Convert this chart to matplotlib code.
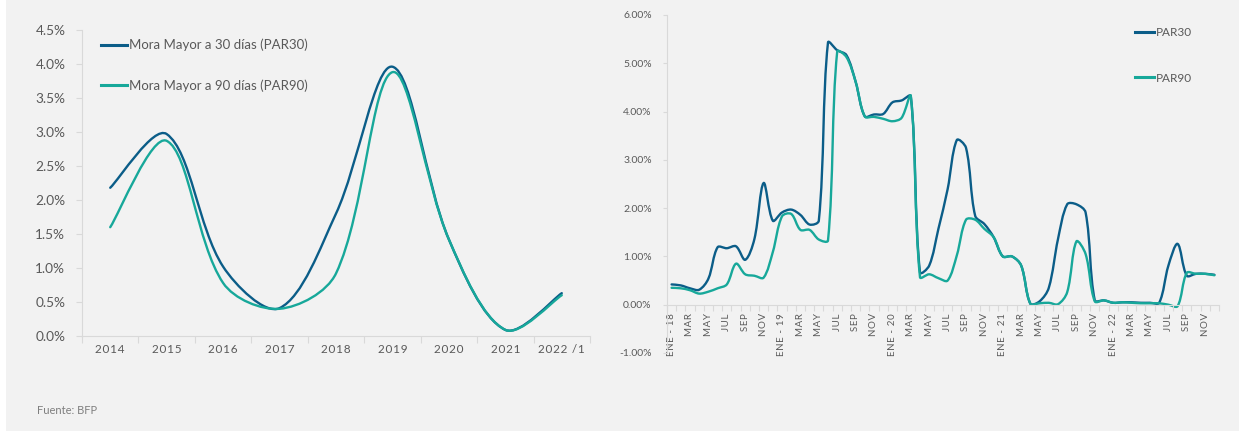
import matplotlib
matplotlib.use("Agg")
import matplotlib.pyplot as plt
import numpy as np
from matplotlib.path import Path
from matplotlib.patches import PathPatch, Rectangle
from matplotlib.lines import Line2D

plt.rcParams['font.family'] = ['Lato', 'DejaVu Sans']

# annual delinquency ratios (%)
years = ['2014', '2015', '2016', '2017', '2018', '2019', '2020', '2021', '2022 /1']
par30_year = [2.18, 2.97, 1.02, 0.41, 1.80, 3.96, 1.42, 0.09, 0.63]
par90_year = [1.60, 2.87, 0.78, 0.40, 0.92, 3.88, 1.42, 0.09, 0.60]

# monthly ratios Jan-2018 .. Dec-2022 (%)
par30_month = [0.42, 0.40, 0.34, 0.31, 0.54, 1.19, 1.17, 1.21, 0.93, 1.36, 2.52, 1.74,
               1.91, 1.97, 1.86, 1.66, 1.74, 5.43, 5.27, 5.17, 4.62, 3.90, 3.94, 3.95,
               4.19, 4.23, 4.32, 0.67, 0.81, 1.57, 2.39, 3.41, 3.25, 1.84, 1.67, 1.40,
               1.00, 1.00, 0.81, 0.02, 0.07, 0.35, 1.36, 2.08, 2.08, 1.91, 0.09, 0.09,
               0.04, 0.05, 0.05, 0.04, 0.04, 0.04, 0.81, 1.26, 0.60, 0.64, 0.64, 0.62]
par90_month = [0.35, 0.34, 0.30, 0.23, 0.27, 0.34, 0.42, 0.85, 0.63, 0.60, 0.56, 1.09,
               1.83, 1.88, 1.55, 1.55, 1.35, 1.33, 5.24, 5.13, 4.62, 3.90, 3.89, 3.85,
               3.80, 3.87, 4.32, 0.57, 0.63, 0.55, 0.50, 1.02, 1.76, 1.76, 1.57, 1.40,
               1.00, 1.00, 0.81, 0.02, 0.03, 0.04, 0.01, 0.26, 1.31, 1.05, 0.07, 0.09,
               0.04, 0.05, 0.04, 0.03, 0.03, 0.03, 0.00, -0.03, 0.66, 0.64, 0.64, 0.61]
month_names = ['ENE', 'FEB', 'MAR', 'ABR', 'MAY', 'JUN', 'JUL', 'AGO', 'SEP', 'OCT', 'NOV', 'DIC']
month_years = ['18', '19', '20', '21', '22']

C30 = '#0b5d88'
C90 = '#17a89a'
GRID = '#d9d9d9'
TXT = '#595959'


def spaced(s):
    return '\u200a'.join(s)


def smooth_path(x, y, sx, sy):
    # smoothed line as cubic beziers; tangent lengths are weighted by the
    # on-screen segment lengths (sx, sy = pixels per data unit) to avoid overshoot
    pts = np.column_stack([x, y]).astype(float)
    scr = pts * np.array([sx, sy])
    n = len(pts)

    def d(a, b):
        return np.hypot(*(scr[b] - scr[a]))

    verts = [pts[0]]
    codes = [Path.MOVETO]
    for i in range(n - 1):
        i0 = max(i - 1, 0)
        i3 = min(i + 2, n - 1)
        d01, d12, d23 = d(i0, i), d(i, i + 1), d(i + 1, i3)
        f1 = d12 / (d01 + d12) / 3.0 if d01 > 0 else 1 / 6.0
        f2 = d12 / (d12 + d23) / 3.0 if d23 > 0 else 1 / 6.0
        c1 = pts[i] + (pts[i + 1] - pts[i0]) * f1
        c2 = pts[i + 1] - (pts[i3] - pts[i]) * f2
        verts += [c1, c2, pts[i + 1]]
        codes += [Path.CURVE4] * 3
    return Path(verts, codes)


def add_line(ax, y, color, sx, sy):
    x = np.arange(len(y)) + 0.5
    patch = PathPatch(smooth_path(x, y, sx, sy), facecolor='none', edgecolor=color,
                      lw=1.7, capstyle='round', joinstyle='round')
    ax.add_patch(patch)


fig = plt.figure(figsize=(12.39, 4.34), dpi=100, facecolor='white')
fig.patches.append(Rectangle((6 / 1239, 3 / 434), 1 - 6 / 1239, 1 - 3 / 434,
                             transform=fig.transFigure, facecolor='#f2f2f2',
                             edgecolor='none', zorder=-10))

# left panel: annual series
ax1 = fig.add_axes([82 / 1239, 1 - 336 / 434, (590 - 82) / 1239, (336 - 30) / 434])
ax1.set_facecolor('none')
add_line(ax1, par30_year, C30, 56.5, 68.0)
add_line(ax1, par90_year, C90, 56.5, 68.0)
ax1.set_xlim(0, len(years))
ax1.set_ylim(0, 4.5)
ax1.set_yticks(np.arange(0, 4.51, 0.5))
ax1.set_yticklabels([f'{v:.1f}%' for v in np.arange(0, 4.51, 0.5)], color=TXT, fontsize=9.8)
ax1.set_xticks(np.arange(0, len(years) + 1))
ax1.set_xticklabels([])
ax1.set_xticks(np.arange(len(years)) + 0.5, minor=True)
ax1.set_xticklabels([spaced(y) for y in years], minor=True, color=TXT, fontsize=8.5)
ax1.tick_params(axis='x', which='major', length=5, color=GRID, direction='out')
ax1.tick_params(axis='x', which='minor', length=0, pad=6)
ax1.tick_params(axis='y', length=4, color=GRID, pad=8)
for s in ['top', 'right']:
    ax1.spines[s].set_visible(False)
for s in ['left', 'bottom']:
    ax1.spines[s].set_color(GRID)
ax1.legend(handles=[Line2D([], [], color=C30, lw=2.2), Line2D([], [], color=C90, lw=2.2)],
           labels=['Mora Mayor a 30 días (PAR30)', 'Mora Mayor a 90 días (PAR90)'],
           loc='upper left', bbox_to_anchor=(0.015, 1.01), frameon=False,
           fontsize=9.5, labelcolor=TXT, handlelength=1.9, handletextpad=0.2,
           labelspacing=2.1)

# right panel: monthly series
ax2 = fig.add_axes([667 / 1239, 1 - 353 / 434, (1219 - 667) / 1239, (353 - 15) / 434])
ax2.set_facecolor('none')
add_line(ax2, par30_month, C30, 9.19, 48.5)
add_line(ax2, par90_month, C90, 9.19, 48.5)
nm = len(par30_month)
ax2.set_xlim(0, nm)
ax2.set_ylim(-1, 6)
ax2.set_yticks(np.arange(-1, 6.01, 1))
ax2.set_yticklabels([f'{v:.2f}%' for v in np.arange(-1, 6.01, 1)], color=TXT, fontsize=7.5)
ax2.spines['bottom'].set_position(('data', 0))
ax2.set_xticks(np.arange(0, nm + 1))
ax2.set_xticklabels([])
labels = []
for i in range(0, nm, 2):
    name = month_names[i % 12]
    if i % 12 == 0:
        name = f'{name} - {month_years[i // 12]}'
    labels.append(spaced(name))
ax2.set_xticks(np.arange(0, nm, 2) + 0.5, minor=True)
ax2.set_xticklabels(labels, minor=True, rotation=90, color=TXT, fontsize=7,
                    va='top', ha='center')
ax2.tick_params(axis='x', which='major', length=4, color=GRID, direction='out')
ax2.tick_params(axis='x', which='minor', length=0, pad=6)
ax2.tick_params(axis='y', length=3, color=GRID, pad=8)
for s in ['top', 'right']:
    ax2.spines[s].set_visible(False)
for s in ['left', 'bottom']:
    ax2.spines[s].set_color(GRID)
ax2.legend(handles=[Line2D([], [], color=C30, lw=2.2), Line2D([], [], color=C90, lw=2.2)],
           labels=['PAR30', 'PAR90'], loc='upper left', bbox_to_anchor=(0.828, 0.995),
           frameon=False, fontsize=8.5, labelcolor=TXT, handlelength=1.6,
           handletextpad=0.2, labelspacing=2.9)

fig.text(37 / 1239, 1 - 411 / 434, 'Fuente: BFP', color='#7f7f7f', fontsize=8, va='center')

fig.savefig('out.png', dpi=100, facecolor=fig.get_facecolor())
